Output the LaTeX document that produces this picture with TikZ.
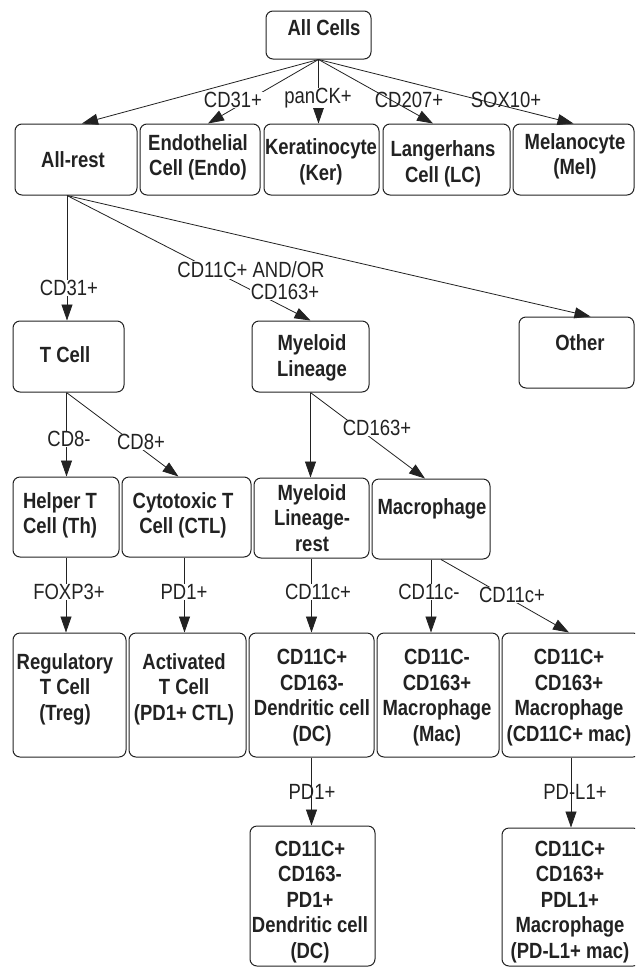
\documentclass[tikz,border=0pt]{standalone}
\usepackage{fontspec}
\setmainfont{Liberation Sans}[FakeStretch=0.84]
\usetikzlibrary{arrows.meta}
\definecolor{ink}{RGB}{34,34,34}
\tikzset{
  box/.style={draw=ink, rounded corners=7pt, line width=1pt, fill=white, inner sep=0pt},
  txt/.style={font=\fontsize{22}{25.5}\selectfont\bfseries, text=ink, align=center, inner sep=0pt},
  lbl/.style={font=\fontsize{22}{24}\selectfont, text=ink, fill=white, inner sep=0.5pt},
  lblt/.style={font=\fontsize{22}{24}\selectfont, text=ink, inner sep=0.5pt},
  arr/.style={draw=ink, -{Triangle[length=16pt,width=11pt]}, line width=0.8pt},
}
\begin{document}
\begin{tikzpicture}[x=1pt,y=-1pt]
\useasboundingbox (0,0) rectangle (635,967);
\fill[white] (0,0) rectangle (635,967);
\clip (0,0) rectangle (635,967);

% ---------- boxes ----------
\node[box, minimum width=105pt, minimum height=48pt] (allcells) at (318.5,35) {};
\node[box, minimum width=122pt, minimum height=71pt] (allrest) at (76,159.5) {};
\node[box, minimum width=120pt, minimum height=71pt] (endo) at (200,159.5) {};
\node[box, minimum width=115pt, minimum height=71pt] (ker) at (321.5,159.5) {};
\node[box, minimum width=127pt, minimum height=71pt] (lc) at (446.5,159.5) {};
\node[box, minimum width=121pt, minimum height=71pt] (mel) at (573.5,159.5) {};
\node[box, minimum width=111pt, minimum height=71pt] (tcell) at (68.5,356.5) {};
\node[box, minimum width=117pt, minimum height=71pt] (myeloid) at (310.5,356.5) {};
\node[box, minimum width=115pt, minimum height=71pt] (other) at (576.5,352.5) {};
\node[box, minimum width=106pt, minimum height=80pt] (helper) at (66,517) {};
\node[box, minimum width=129pt, minimum height=80pt] (ctl) at (186.5,517) {};
\node[box, minimum width=115pt, minimum height=80pt] (mlrest) at (311.5,518) {};
\node[box, minimum width=118pt, minimum height=80pt] (mac) at (431,519) {};
\node[box, minimum width=113pt, minimum height=124pt] (treg) at (69.5,695) {};
\node[box, minimum width=117pt, minimum height=124pt] (act) at (187.5,695) {};
\node[box, minimum width=125pt, minimum height=124pt] (dc) at (311.5,695) {};
\node[box, minimum width=122pt, minimum height=124pt] (macm) at (438,695) {};
\node[box, minimum width=138pt, minimum height=124pt] (cdmac) at (571,695) {};
\node[box, minimum width=125pt, minimum height=140pt] (dcpd1) at (312.5,896) {};
\node[box, minimum width=138pt, minimum height=138pt] (pdl1) at (571,897) {};

% ---------- box texts ----------
\node[txt] (allcells-t) at (324,28) {All Cells};
\node[txt] (allrest-t) at (73,160) {All-rest};
\node[txt] (endo-t) at (198,157.5) {Endothelial\\Cell (Endo)};
\node[txt] (ker-t) at (321,162) {Keratinocyte\\(Ker)};
\node[txt] (lc-t) at (443,164) {Langerhans\\Cell (LC)};
\node[txt] (mel-t) at (575,156.5) {Melanocyte\\(Mel)};
\node[txt] (tcell-t) at (65,355) {T Cell};
\node[txt] (myeloid-t) at (312,358) {Myeloid\\Lineage};
\node[txt] (other-t) at (580,343) {Other};
\node[txt] (helper-t) at (60,515.5) {Helper T\\Cell (Th)};
\node[txt] (ctl-t) at (183,515.5) {Cytotoxic T\\Cell (CTL)};
\node[txt] (mlrest-t) at (312,518) {Myeloid\\Lineage-\\rest};
\node[txt] (mac-t) at (432,509) {Macrophage};
\node[txt] (treg-t) at (65,689) {Regulatory\\T Cell\\(Treg)};
\node[txt] (act-t) at (184,689) {Activated\\T Cell\\(PD1+ CTL)};
\node[txt] (dc-t) at (312,697.5) {CD11C+\\CD163-\\Dendritic cell\\(DC)};
\node[txt] (macm-t) at (437,697.5) {CD11C-\\CD163+\\Macrophage\\(Mac)};
\node[txt] (cdmac-t) at (569,697.5) {CD11C+\\CD163+\\Macrophage\\(CD11C+ mac)};
\node[txt] (dcpd1-t) at (310,902) {CD11C+\\CD163-\\PD1+\\Dendritic cell\\(DC)};
\node[txt] (pdl1-t) at (570,902) {CD11C+\\CD163+\\PDL1+\\Macrophage\\(PD-L1+ mac)};

% ---------- connectors ----------
\coordinate (arS) at ([xshift=-9pt]allrest.south);
\coordinate (tcS) at ([xshift=-2pt]tcell.south);
\coordinate (ctlS) at ([xshift=-2pt]ctl.south);

\draw[arr] (allcells.south) -- ([xshift=6pt]allrest.north);
\draw[arr] (allcells.south) -- ([xshift=8pt]endo.north);
\draw[arr] (allcells.south) -- (allcells.south |- ker.north);
\draw[arr] (allcells.south) -- ([xshift=-13.5pt]lc.north);
\draw[arr] (allcells.south) -- (mel.north);

\draw[arr] (arS) -- (arS |- tcell.north);
\draw[arr] (arS) -- (myeloid.north);
\draw[arr] (arS) -- ([xshift=14pt]other.north);

\draw[arr] (tcS) -- (tcS |- helper.north);
\draw[arr] (tcS) -- ([xshift=-8pt]ctl.north);
\draw[arr] (myeloid.south) -- (myeloid.south |- mlrest.north);
\draw[arr] (myeloid.south) -- ([xshift=-6pt]mac.north);

\draw[arr] (helper.south) -- (helper.south |- treg.north);
\draw[arr] (ctlS) -- (ctlS |- act.north);
\draw[arr] (mlrest.south) -- (mlrest.south |- dc.north);
\draw[arr] (mac.south) -- (mac.south |- macm.north);
\draw[arr] ([xshift=10pt]mac.south) -- ([xshift=-2pt]cdmac.north);

\draw[arr] (dc.south) -- (dc.south |- dcpd1.north);
\draw[arr] (cdmac.south) -- (cdmac.south |- pdl1.north);

% ---------- labels ----------
\node[lbl] (l-cd31a) at (233,100) {CD31+};
\node[lbl] (l-panck) at (318,98) {panCK+};
\node[lblt] (l-cd207) at (409,100) {CD207+};
\node[lblt] (l-sox) at (506,100) {SOX10+};
\node[lbl] (l-cd31b) at (69,288) {CD31+};
\node[lbl] (l-cd11a) at (251,270) {CD11C+ AND/OR};
\node[lbl] (l-cd163a) at (285,292) {CD163+};
\node[lbl] (l-cd8m) at (69,439) {CD8-};
\node[lbl] (l-cd8p) at (141,442) {CD8+};
\node[lbl] (l-cd163b) at (377,428) {CD163+};
\node[lbl] (l-foxp3) at (69,592) {FOXP3+};
\node[lbl] (l-pd1a) at (184,592) {PD1+};
\node[lbl] (l-cd11b) at (318,592) {CD11c+};
\node[lbl] (l-cd11m) at (429,592) {CD11c-};
\node[lbl] (l-cd11p) at (512,595) {CD11c+};
\node[lblt] (l-pd1b) at (312,792) {PD1+};
\node[lblt] (l-pdl1) at (575,792) {PD-L1+};
\end{tikzpicture}
\end{document}
